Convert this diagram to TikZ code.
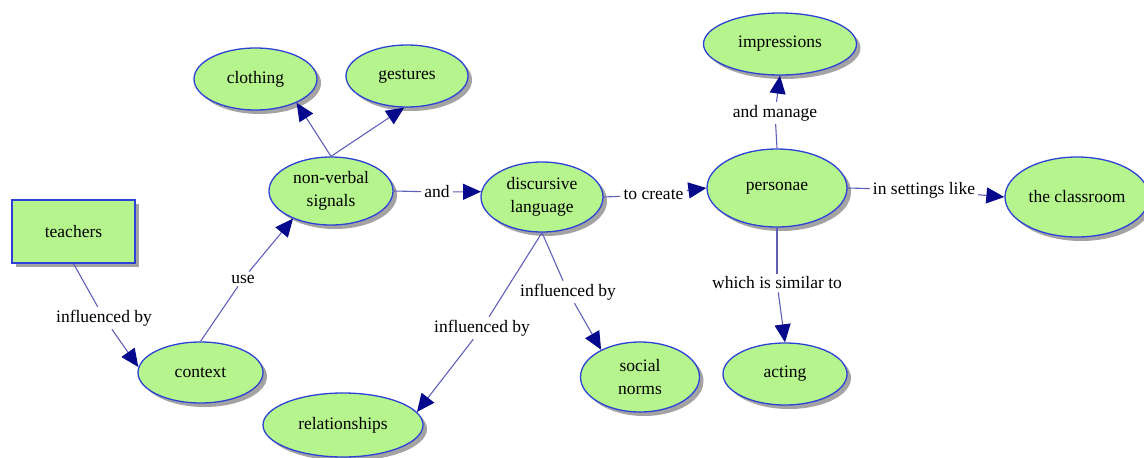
\documentclass[tikz,border=0pt]{standalone}
\usepackage{fontspec}
\setmainfont{Liberation Serif}
\usetikzlibrary{shapes.geometric,arrows.meta,shadows}
\definecolor{conceptfill}{RGB}{182,245,142}
\definecolor{conceptline}{RGB}{45,65,215}
\definecolor{linkline}{RGB}{95,95,185}
\definecolor{tipblue}{RGB}{5,10,140}
\begin{document}
\begin{tikzpicture}
[x=1pt,y=-1pt,font=\fontsize{17.5}{23}\selectfont,
concept/.style={ellipse,draw=conceptline,line width=1.3pt,fill=conceptfill,inner sep=0pt,align=center,
drop shadow={shadow xshift=4pt,shadow yshift=-4pt,fill=black!60,opacity=.6}},
link text/.style={inner sep=3pt},
link/.style={linkline,line width=1.1pt},
tolink/.style={link,-{Triangle[length=18pt,width=16pt,color=tipblue]}}]
\useasboundingbox (0,0) rectangle (1144,458);
\node[concept,rectangle,minimum width=123pt,minimum height=63pt] (teachers) at (73.5,231.5) {teachers};
\node[concept,minimum width=125pt,minimum height=61pt] (context) at (200.5,372.5) {context};
\node[concept,minimum width=124pt,minimum height=68pt] (signals) at (331,191) {non-verbal\\signals};
\node[concept,minimum width=123pt,minimum height=62pt] (clothing) at (255.5,79) {clothing};
\node[concept,minimum width=122pt,minimum height=62pt] (gestures) at (407,76) {gestures};
\node[concept,minimum width=122pt,minimum height=70pt] (discursive) at (542,197) {discursive\\language};
\node[concept,minimum width=140pt,minimum height=78pt] (personae) at (777,188) {personae};
\node[concept,minimum width=153pt,minimum height=62pt] (impressions) at (780,44) {impressions};
\node[concept,minimum width=144pt,minimum height=80pt] (classroom) at (1077,197) {the classroom};
\node[concept,minimum width=124pt,minimum height=62pt] (acting) at (785,374) {acting};
\node[concept,minimum width=119pt,minimum height=70pt] (norms) at (640,377) {social\\norms};
\node[concept,minimum width=160pt,minimum height=64pt] (relationships) at (343,425) {relationships};
\node[link text] (inf1) at (104,318) {influenced by};
\node[link text] (use) at (243,279) {use};
\node[link text] (and) at (437,192) {and};
\node[link text] (create) at (653.5,195) {to create};
\node[link text] (inf2) at (482,328) {influenced by};
\node[link text] (inf3) at (568,292) {influenced by};
\node[link text] (manage) at (775,113) {and manage};
\node[link text] (similar) at (777,283) {which is similar to};
\node[link text] (settings) at (924,190) {in settings like};
\path[link]
(teachers.south) edge (inf1)
(context.north) edge (use)
(signals.east) edge (and)
(discursive.east) edge (create)
(discursive.south) edge (inf2)
(discursive.south) edge (inf3)
(personae.north) edge (manage)
(personae.south) edge (similar)
(personae.east) edge (settings);
\path[tolink]
(inf1) edge (context.175)
(use) edge (signals.216)
(signals.north) edge (clothing.330)
(signals.north) edge (gestures.265)
(and) edge (discursive.175)
(create) edge (personae.west)
(inf2) edge (relationships.10)
(inf3) edge (norms.145)
(manage) edge (impressions.south)
(similar) edge (acting.north)
(settings) edge (classroom.west);
\end{tikzpicture}
\end{document}
